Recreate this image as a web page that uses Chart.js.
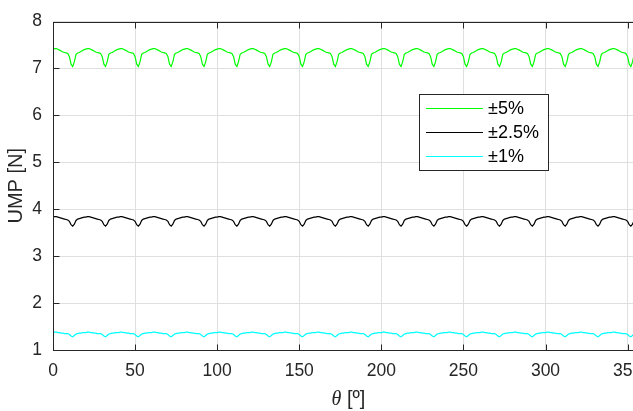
<!DOCTYPE html>
<html>
<head>
<meta charset="utf-8">
<script src="https://cdn.jsdelivr.net/npm/chart.js@4.4.1/dist/chart.umd.min.js"></script>
<style>
html, body { margin: 0; padding: 0; background: #fff; overflow: hidden; }
#wrap { position: relative; width: 700px; height: 411px; }
</style>
</head>
<body>
<div id="wrap"><canvas id="umpChart"></canvas></div>
<script>
// rotor angle, degrees
var theta = [
	0,1,2,3,4,5,6,7,8,9,10,11,12,13,14,15,16,17,18,19,
	20,21,22,23,24,25,26,27,28,29,30,31,32,33,34,35,36,37,38,39,
	40,41,42,43,44,45,46,47,48,49,50,51,52,53,54,55,56,57,58,59,
	60,61,62,63,64,65,66,67,68,69,70,71,72,73,74,75,76,77,78,79,
	80,81,82,83,84,85,86,87,88,89,90,91,92,93,94,95,96,97,98,99,
	100,101,102,103,104,105,106,107,108,109,110,111,112,113,114,115,116,117,118,119,
	120,121,122,123,124,125,126,127,128,129,130,131,132,133,134,135,136,137,138,139,
	140,141,142,143,144,145,146,147,148,149,150,151,152,153,154,155,156,157,158,159,
	160,161,162,163,164,165,166,167,168,169,170,171,172,173,174,175,176,177,178,179,
	180,181,182,183,184,185,186,187,188,189,190,191,192,193,194,195,196,197,198,199,
	200,201,202,203,204,205,206,207,208,209,210,211,212,213,214,215,216,217,218,219,
	220,221,222,223,224,225,226,227,228,229,230,231,232,233,234,235,236,237,238,239,
	240,241,242,243,244,245,246,247,248,249,250,251,252,253,254,255,256,257,258,259,
	260,261,262,263,264,265,266,267,268,269,270,271,272,273,274,275,276,277,278,279,
	280,281,282,283,284,285,286,287,288,289,290,291,292,293,294,295,296,297,298,299,
	300,301,302,303,304,305,306,307,308,309,310,311,312,313,314,315,316,317,318,319,
	320,321,322,323,324,325,326,327,328,329,330,331,332,333,334,335,336,337,338,339,
	340,341,342,343,344,345,346,347,348,349,350,351,352,353,354,355,356,357,358,359,
	360
];

// UMP [N], eccentricity +-5%
var ump5 = [
	7.41,7.42,7.42,7.41,7.39,7.37,7.35,7.34,7.33,7.32,7.25,7.09,7.04,7.14,7.30,7.33,7.34,7.36,7.38,7.40,
	7.41,7.42,7.42,7.41,7.39,7.37,7.35,7.34,7.33,7.32,7.25,7.09,7.04,7.14,7.30,7.33,7.34,7.36,7.38,7.40,
	7.41,7.42,7.42,7.41,7.39,7.37,7.35,7.34,7.33,7.32,7.25,7.09,7.04,7.14,7.30,7.33,7.34,7.36,7.38,7.40,
	7.41,7.42,7.42,7.41,7.39,7.37,7.35,7.34,7.33,7.32,7.25,7.09,7.04,7.14,7.30,7.33,7.34,7.36,7.38,7.40,
	7.41,7.42,7.42,7.41,7.39,7.37,7.35,7.34,7.33,7.32,7.25,7.09,7.04,7.14,7.30,7.33,7.34,7.36,7.38,7.40,
	7.41,7.42,7.42,7.41,7.39,7.37,7.35,7.34,7.33,7.32,7.25,7.09,7.04,7.14,7.30,7.33,7.34,7.36,7.38,7.40,
	7.41,7.42,7.42,7.41,7.39,7.37,7.35,7.34,7.33,7.32,7.25,7.09,7.04,7.14,7.30,7.33,7.34,7.36,7.38,7.40,
	7.41,7.42,7.42,7.41,7.39,7.37,7.35,7.34,7.33,7.32,7.25,7.09,7.04,7.14,7.30,7.33,7.34,7.36,7.38,7.40,
	7.41,7.42,7.42,7.41,7.39,7.37,7.35,7.34,7.33,7.32,7.25,7.09,7.04,7.14,7.30,7.33,7.34,7.36,7.38,7.40,
	7.41,7.42,7.42,7.41,7.39,7.37,7.35,7.34,7.33,7.32,7.25,7.09,7.04,7.14,7.30,7.33,7.34,7.36,7.38,7.40,
	7.41,7.42,7.42,7.41,7.39,7.37,7.35,7.34,7.33,7.32,7.25,7.09,7.04,7.14,7.30,7.33,7.34,7.36,7.38,7.40,
	7.41,7.42,7.42,7.41,7.39,7.37,7.35,7.34,7.33,7.32,7.25,7.09,7.04,7.14,7.30,7.33,7.34,7.36,7.38,7.40,
	7.41,7.42,7.42,7.41,7.39,7.37,7.35,7.34,7.33,7.32,7.25,7.09,7.04,7.14,7.30,7.33,7.34,7.36,7.38,7.40,
	7.41,7.42,7.42,7.41,7.39,7.37,7.35,7.34,7.33,7.32,7.25,7.09,7.04,7.14,7.30,7.33,7.34,7.36,7.38,7.40,
	7.41,7.42,7.42,7.41,7.39,7.37,7.35,7.34,7.33,7.32,7.25,7.09,7.04,7.14,7.30,7.33,7.34,7.36,7.38,7.40,
	7.41,7.42,7.42,7.41,7.39,7.37,7.35,7.34,7.33,7.32,7.25,7.09,7.04,7.14,7.30,7.33,7.34,7.36,7.38,7.40,
	7.41,7.42,7.42,7.41,7.39,7.37,7.35,7.34,7.33,7.32,7.25,7.09,7.04,7.14,7.30,7.33,7.34,7.36,7.38,7.40,
	7.41,7.42,7.42,7.41,7.39,7.37,7.35,7.34,7.33,7.32,7.25,7.09,7.04,7.14,7.30,7.33,7.34,7.36,7.38,7.40,
	7.41
];

// UMP [N], eccentricity +-2.5%
var ump25 = [
	3.83,3.84,3.84,3.83,3.82,3.81,3.80,3.79,3.78,3.77,3.74,3.67,3.64,3.68,3.76,3.79,3.80,3.81,3.82,3.83,
	3.83,3.84,3.84,3.83,3.82,3.81,3.80,3.79,3.78,3.77,3.74,3.67,3.64,3.68,3.76,3.79,3.80,3.81,3.82,3.83,
	3.83,3.84,3.84,3.83,3.82,3.81,3.80,3.79,3.78,3.77,3.74,3.67,3.64,3.68,3.76,3.79,3.80,3.81,3.82,3.83,
	3.83,3.84,3.84,3.83,3.82,3.81,3.80,3.79,3.78,3.77,3.74,3.67,3.64,3.68,3.76,3.79,3.80,3.81,3.82,3.83,
	3.83,3.84,3.84,3.83,3.82,3.81,3.80,3.79,3.78,3.77,3.74,3.67,3.64,3.68,3.76,3.79,3.80,3.81,3.82,3.83,
	3.83,3.84,3.84,3.83,3.82,3.81,3.80,3.79,3.78,3.77,3.74,3.67,3.64,3.68,3.76,3.79,3.80,3.81,3.82,3.83,
	3.83,3.84,3.84,3.83,3.82,3.81,3.80,3.79,3.78,3.77,3.74,3.67,3.64,3.68,3.76,3.79,3.80,3.81,3.82,3.83,
	3.83,3.84,3.84,3.83,3.82,3.81,3.80,3.79,3.78,3.77,3.74,3.67,3.64,3.68,3.76,3.79,3.80,3.81,3.82,3.83,
	3.83,3.84,3.84,3.83,3.82,3.81,3.80,3.79,3.78,3.77,3.74,3.67,3.64,3.68,3.76,3.79,3.80,3.81,3.82,3.83,
	3.83,3.84,3.84,3.83,3.82,3.81,3.80,3.79,3.78,3.77,3.74,3.67,3.64,3.68,3.76,3.79,3.80,3.81,3.82,3.83,
	3.83,3.84,3.84,3.83,3.82,3.81,3.80,3.79,3.78,3.77,3.74,3.67,3.64,3.68,3.76,3.79,3.80,3.81,3.82,3.83,
	3.83,3.84,3.84,3.83,3.82,3.81,3.80,3.79,3.78,3.77,3.74,3.67,3.64,3.68,3.76,3.79,3.80,3.81,3.82,3.83,
	3.83,3.84,3.84,3.83,3.82,3.81,3.80,3.79,3.78,3.77,3.74,3.67,3.64,3.68,3.76,3.79,3.80,3.81,3.82,3.83,
	3.83,3.84,3.84,3.83,3.82,3.81,3.80,3.79,3.78,3.77,3.74,3.67,3.64,3.68,3.76,3.79,3.80,3.81,3.82,3.83,
	3.83,3.84,3.84,3.83,3.82,3.81,3.80,3.79,3.78,3.77,3.74,3.67,3.64,3.68,3.76,3.79,3.80,3.81,3.82,3.83,
	3.83,3.84,3.84,3.83,3.82,3.81,3.80,3.79,3.78,3.77,3.74,3.67,3.64,3.68,3.76,3.79,3.80,3.81,3.82,3.83,
	3.83,3.84,3.84,3.83,3.82,3.81,3.80,3.79,3.78,3.77,3.74,3.67,3.64,3.68,3.76,3.79,3.80,3.81,3.82,3.83,
	3.83,3.84,3.84,3.83,3.82,3.81,3.80,3.79,3.78,3.77,3.74,3.67,3.64,3.68,3.76,3.79,3.80,3.81,3.82,3.83,
	3.83
];

// UMP [N], eccentricity +-1%
var ump1 = [
	1.37,1.38,1.38,1.37,1.37,1.36,1.36,1.35,1.35,1.35,1.33,1.30,1.28,1.31,1.34,1.35,1.36,1.36,1.37,1.37,
	1.37,1.38,1.38,1.37,1.37,1.36,1.36,1.35,1.35,1.35,1.33,1.30,1.28,1.31,1.34,1.35,1.36,1.36,1.37,1.37,
	1.37,1.38,1.38,1.37,1.37,1.36,1.36,1.35,1.35,1.35,1.33,1.30,1.28,1.31,1.34,1.35,1.36,1.36,1.37,1.37,
	1.37,1.38,1.38,1.37,1.37,1.36,1.36,1.35,1.35,1.35,1.33,1.30,1.28,1.31,1.34,1.35,1.36,1.36,1.37,1.37,
	1.37,1.38,1.38,1.37,1.37,1.36,1.36,1.35,1.35,1.35,1.33,1.30,1.28,1.31,1.34,1.35,1.36,1.36,1.37,1.37,
	1.37,1.38,1.38,1.37,1.37,1.36,1.36,1.35,1.35,1.35,1.33,1.30,1.28,1.31,1.34,1.35,1.36,1.36,1.37,1.37,
	1.37,1.38,1.38,1.37,1.37,1.36,1.36,1.35,1.35,1.35,1.33,1.30,1.28,1.31,1.34,1.35,1.36,1.36,1.37,1.37,
	1.37,1.38,1.38,1.37,1.37,1.36,1.36,1.35,1.35,1.35,1.33,1.30,1.28,1.31,1.34,1.35,1.36,1.36,1.37,1.37,
	1.37,1.38,1.38,1.37,1.37,1.36,1.36,1.35,1.35,1.35,1.33,1.30,1.28,1.31,1.34,1.35,1.36,1.36,1.37,1.37,
	1.37,1.38,1.38,1.37,1.37,1.36,1.36,1.35,1.35,1.35,1.33,1.30,1.28,1.31,1.34,1.35,1.36,1.36,1.37,1.37,
	1.37,1.38,1.38,1.37,1.37,1.36,1.36,1.35,1.35,1.35,1.33,1.30,1.28,1.31,1.34,1.35,1.36,1.36,1.37,1.37,
	1.37,1.38,1.38,1.37,1.37,1.36,1.36,1.35,1.35,1.35,1.33,1.30,1.28,1.31,1.34,1.35,1.36,1.36,1.37,1.37,
	1.37,1.38,1.38,1.37,1.37,1.36,1.36,1.35,1.35,1.35,1.33,1.30,1.28,1.31,1.34,1.35,1.36,1.36,1.37,1.37,
	1.37,1.38,1.38,1.37,1.37,1.36,1.36,1.35,1.35,1.35,1.33,1.30,1.28,1.31,1.34,1.35,1.36,1.36,1.37,1.37,
	1.37,1.38,1.38,1.37,1.37,1.36,1.36,1.35,1.35,1.35,1.33,1.30,1.28,1.31,1.34,1.35,1.36,1.36,1.37,1.37,
	1.37,1.38,1.38,1.37,1.37,1.36,1.36,1.35,1.35,1.35,1.33,1.30,1.28,1.31,1.34,1.35,1.36,1.36,1.37,1.37,
	1.37,1.38,1.38,1.37,1.37,1.36,1.36,1.35,1.35,1.35,1.33,1.30,1.28,1.31,1.34,1.35,1.36,1.36,1.37,1.37,
	1.37,1.38,1.38,1.37,1.37,1.36,1.36,1.35,1.35,1.35,1.33,1.30,1.28,1.31,1.34,1.35,1.36,1.36,1.37,1.37,
	1.37
];

var seriesLabels = ['±5%', '±2.5%', '±1%'];
var xTicks = [0, 50, 100, 150, 200, 250, 300, 350];
var yTicks = [1, 2, 3, 4, 5, 6, 7, 8];

var axisColor = '#262626';
var gridColor = '#dfdfdf';
var sans = "'Liberation Sans', Arial, sans-serif";

//- box, inward ticks, x label and legend drawn MATLAB style
var matlabAxes = {
	id: 'matlabAxes',
	afterDraw: function (chart) {
		var ctx = chart.ctx;
		var a = chart.chartArea;
		var xs = chart.scales.x, ys = chart.scales.y;
		var L = Math.round(a.left) + 0.5, R = Math.round(a.right) + 0.5;
		var T = Math.round(a.top) + 0.5, B = Math.round(a.bottom) + 0.5;
		var tl = 6;
		ctx.save();
		ctx.strokeStyle = axisColor;
		ctx.lineWidth = 1;
		ctx.beginPath();
		xTicks.forEach(function (v) {
			var px = Math.round(xs.getPixelForValue(v)) + 0.5;
			ctx.moveTo(px, B); ctx.lineTo(px, B - tl);
			ctx.moveTo(px, T); ctx.lineTo(px, T + tl);
		});
		yTicks.forEach(function (v) {
			var py = Math.round(ys.getPixelForValue(v)) + 0.5;
			ctx.moveTo(L, py); ctx.lineTo(L + tl, py);
			ctx.moveTo(R, py); ctx.lineTo(R - tl, py);
		});
		ctx.stroke();
		ctx.strokeRect(L, T, R - L, B - T);

		// x label: theta [deg]
		var p1 = 'θ', p2 = ' [º]';
		ctx.fillStyle = axisColor;
		ctx.textBaseline = 'alphabetic';
		ctx.font = "italic 20px 'Liberation Serif', serif";
		var w1 = ctx.measureText(p1).width;
		ctx.font = '20px ' + sans;
		var w2 = ctx.measureText(p2).width;
		var x0 = (a.left + a.right) / 2 - (w1 + w2) / 2;
		ctx.font = "italic 20px 'Liberation Serif', serif";
		ctx.fillText(p1, x0, 405);
		ctx.font = '20px ' + sans;
		ctx.fillText(p2, x0 + w1, 405);

		// legend
		var bx = 419.5, by = 94.5, bw = 129, bh = 76;
		ctx.fillStyle = '#fff';
		ctx.fillRect(bx, by, bw, bh);
		ctx.strokeStyle = axisColor;
		ctx.strokeRect(bx, by, bw, bh);
		ctx.font = '18px ' + sans;
		ctx.textBaseline = 'middle';
		chart.data.datasets.forEach(function (ds, i) {
			var ry = Math.round(108 + i * 24) + 0.5;
			ctx.strokeStyle = ds.borderColor;
			ctx.lineWidth = ds.borderWidth;
			ctx.beginPath();
			ctx.moveTo(426, ry); ctx.lineTo(483, ry);
			ctx.stroke();
			ctx.fillStyle = '#000';
			ctx.fillText(ds.label, 488, ry + 1);
		});
		ctx.restore();
	}
};

var ctx = document.getElementById('umpChart').getContext('2d');
var umpChart = new Chart(ctx, {
	type: 'line',
	data: {
		labels: theta,
		datasets: [
			{ label: seriesLabels[0], data: ump5, borderColor: '#00ff00', borderWidth: 1.2 },
			{ label: seriesLabels[1], data: ump25, borderColor: '#000000', borderWidth: 1.2 },
			{ label: seriesLabels[2], data: ump1, borderColor: '#00ffff', borderWidth: 1.2 }
		]
	},
	options: {
		responsive: true,
		maintainAspectRatio: false,
		animation: false,
		elements: { point: { radius: 0 }, line: { tension: 0 } },
		layout: { padding: { top: 15, right: 56, left: 0, bottom: 0 } },
		plugins: { legend: { display: false }, tooltip: { enabled: false } },
		scales: {
			x: {
				type: 'linear',
				min: 0,
				max: 360,
				afterBuildTicks: function (s) { s.ticks = xTicks.map(function (v) { return { value: v }; }); },
				afterFit: function (s) { s.height = 61; },
				grid: { color: gridColor, drawTicks: false },
				border: { display: false },
				ticks: { color: axisColor, padding: 11, maxRotation: 0, autoSkip: false, font: { family: sans, size: 17.5 } }
			},
			y: {
				min: 1,
				max: 8,
				afterBuildTicks: function (s) { s.ticks = yTicks.map(function (v) { return { value: v }; }); },
				afterFit: function (s) { s.width = 53; },
				grid: { color: gridColor, drawTicks: false },
				border: { display: false },
				ticks: { color: axisColor, padding: 11, font: { family: sans, size: 17.5 } },
				title: { display: true, text: 'UMP [N]', color: axisColor, padding: { top: 4, bottom: 0 }, font: { family: sans, size: 20 } }
			}
		}
	},
	plugins: [matlabAxes]
});
</script>
</body>
</html>
